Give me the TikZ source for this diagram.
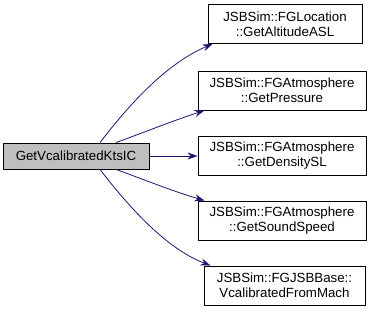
\documentclass[tikz,border=0pt]{standalone}
\usepackage{fontspec}
\setmainfont{Liberation Sans}
\usetikzlibrary{arrows.meta}

\definecolor{edgeblue}{HTML}{191970}
\definecolor{callgray}{HTML}{BFBFBF}

\begin{document}
\begin{tikzpicture}
            [
                x=1pt, y=1pt,
                every node/.style={font=\fontsize{13.3}{15}\selectfont, align=center, inner sep=0pt},
                fn/.style={draw=black, line width=0.9pt, fill=white, minimum width=168pt, minimum height=39pt},
                root/.style={draw=black, line width=0.9pt, fill=callgray, minimum width=146pt, minimum height=26pt},
                call/.style={draw=edgeblue, line width=0.8pt, -{Stealth[length=10pt, width=7pt]}}
            ]
            \useasboundingbox (0,0) rectangle (371,312);

            \node[root] (kts) at (76,156) {GetVcalibratedKtsIC};

            \node[fn, minimum width=154pt] (loc) at (285,288) {
                JSBSim::FGLocation \\
                ::GetAltitudeASL
            };
            \node[fn] (pres) at (282,221.5) {
                JSBSim::FGAtmosphere \\
                ::GetPressure
            };
            \node[fn] (dens) at (282,156.5) {
                JSBSim::FGAtmosphere \\
                ::GetDensitySL
            };
            \node[fn] (snd) at (282,91.5) {
                JSBSim::FGAtmosphere \\
                ::GetSoundSpeed
            };
            \node[fn, minimum width=161pt] (mach) at (284.5,26.5) {
                JSBSim::FGJSBBase:: \\
                VcalibratedFromMach
            };

            % calls out of GetVcalibratedKtsIC
            \draw[call] ([xshift=24pt]kts.north) .. controls (135,215) and (170,250) .. ([xshift=5pt]loc.south west);
            \draw[call] ([xshift=40pt]kts.north) .. controls (145,180) and (175,192) .. ([xshift=7pt]pres.south west);
            \draw[call] (kts.east) -- (kts.east -| dens.west);
            \draw[call] ([xshift=40pt]kts.south) .. controls (145,132) and (175,120) .. ([xshift=7pt]snd.north west);
            \draw[call] ([xshift=24pt]kts.south) .. controls (135,97) and (170,62) .. ([xshift=7pt]mach.north west);
        \end{tikzpicture}
\end{document}
